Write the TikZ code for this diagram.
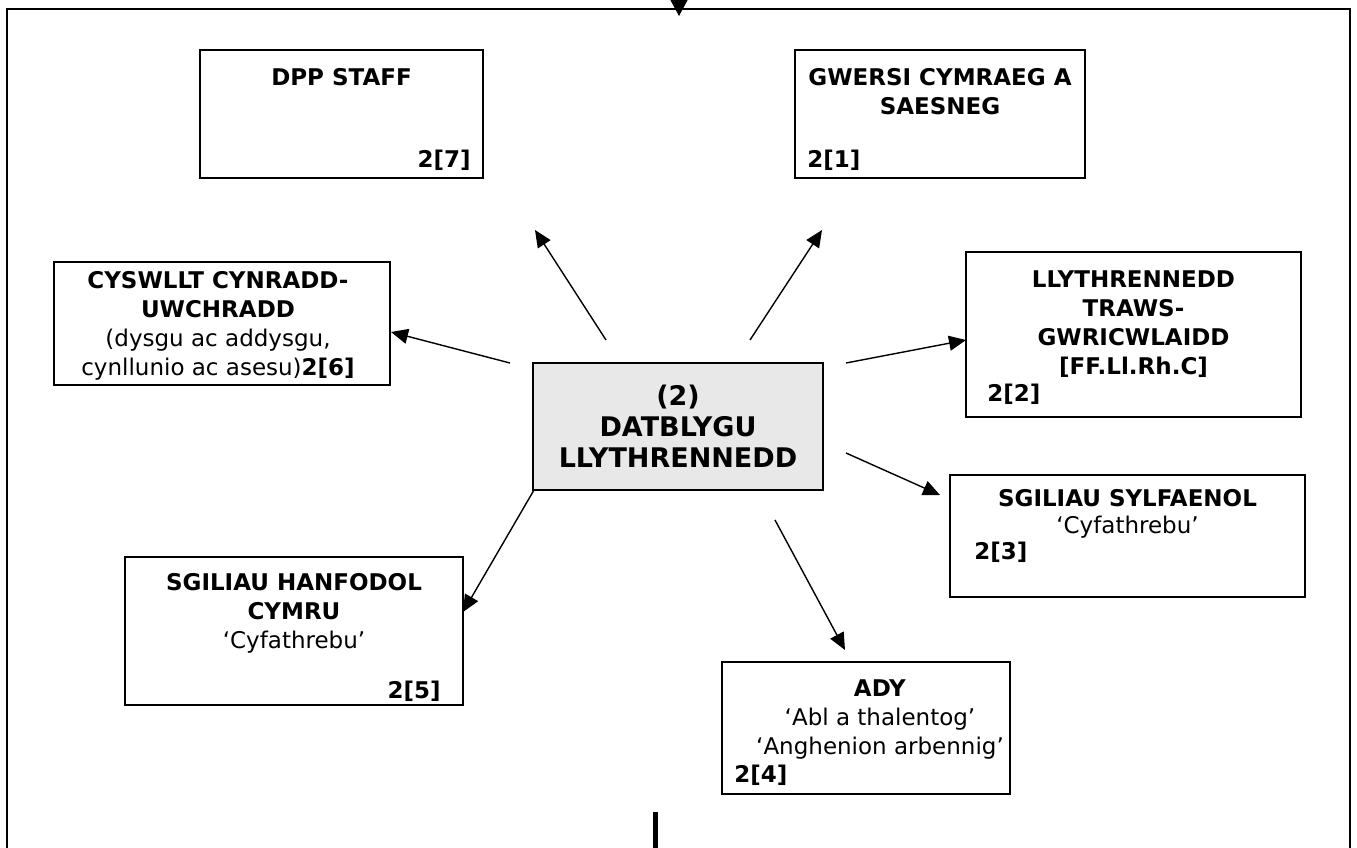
\documentclass[tikz,border=0pt]{standalone}
\usepackage{fontspec}
\setmainfont{DejaVu Sans}
\usetikzlibrary{arrows.meta,positioning}
\definecolor{boxgray}{HTML}{E8E8E8}

\begin{document}
\begin{tikzpicture}[x=1pt,y=-1pt,>={Triangle[length=17pt,width=15pt]},
  box/.style args={#1x#2}{draw,line width=1.5pt,minimum width=#1,minimum height=#2,inner sep=0pt},
  txt/.style={font=\fontsize{23}{29}\selectfont,align=center,inner sep=0pt},
  num/.style={font=\fontsize{23}{29}\selectfont\bfseries,inner sep=0pt}]
  \useasboundingbox (0,0) rectangle (1357,847);
  \draw[line width=2pt] (7,860) -- (7,9) -- (1350,9) -- (1350,860);

  \node[box=290x127,fill=boxgray] (C) at (678,426.5)
    {\parbox{280pt}{\centering\fontsize{27}{31}\selectfont\bfseries (2)\\DATBLYGU\\LLYTHRENNEDD}};

  \node[box=283x128] (S7) at (341.5,114) {};
  \node[box=290x128] (S1) at (940,114) {};
  \node[box=336x123] (S6) at (222,323.5) {};
  \node[box=335x165] (S2) at (1133.5,334.5) {};
  \node[box=355x122] (S3) at (1127.5,536) {};
  \node[box=338x148] (S5) at (294,631) {};
  \node[box=288x132] (S4) at (866,728) {};

  \node[txt,below=19pt of S7.north] (T7) {\textbf{DPP STAFF}};
  \node[num,above left=8pt and 13pt of S7.south east] (N7) {2[7]};
  \node[txt,below=19pt of S1.north] (T1) {\textbf{GWERSI CYMRAEG A}\\\textbf{SAESNEG}};
  \node[num,above right=8pt and 13pt of S1.south west] (N1) {2[1]};
  \node[txt,below=10pt of S6.north,xshift=-4pt] (T6) {\textbf{CYSWLLT CYNRADD-}\\\textbf{UWCHRADD}\\(dysgu ac addysgu,\\cynllunio ac asesu)\textbf{2[6]}};
  \node[txt,below=19pt of S2.north] (T2) {\textbf{LLYTHRENNEDD}\\\textbf{TRAWS-}\\\textbf{GWRICWLAIDD}\\\textbf{[FF.Ll.Rh.C]}};
  \node[num,above right=13pt and 22pt of S2.south west] (N2) {2[2]};
  \node[txt,below=15pt of S3.north,font=\fontsize{23}{27}\selectfont] (T3) {\textbf{SGILIAU SYLFAENOL}\\‘Cyfathrebu’};
  \node[num,below right=68pt and 25pt of S3.north west] (N3) {2[3]};
  \node[txt,below=17pt of S5.north] (T5) {\textbf{SGILIAU HANFODOL}\\\textbf{CYMRU}\\‘Cyfathrebu’};
  \node[num,above left=4pt and 23pt of S5.south east] (N5) {2[5]};
  \node[txt,below=18pt of S4.north,xshift=14pt] (T4) {\textbf{ADY}\\‘Abl a thalentog’\\‘Anghenion arbennig’};
  \node[num,above right=9pt and 13pt of S4.south west] (N4) {2[4]};

  \coordinate (a7) at (606,340); \coordinate (b7) at (535,230);
  \coordinate (a1) at (750,340); \coordinate (b1) at (822,230);
  \coordinate (a6) at (510,363); \coordinate (b6) at (391,332);
  \coordinate (a2) at (846,363); \coordinate (b2) at (966,340);
  \coordinate (a3) at (846,453); \coordinate (b3) at (940,495);
  \coordinate (a5) at (534,490); \coordinate (b5) at (463,612);
  \coordinate (a4) at (775,520); \coordinate (b4) at (845,650);
  \path[->,line width=1.4pt]
  (a7) edge (b7)
  (a1) edge (b1)
  (a6) edge (b6)
  (a2) edge (b2)
  (a3) edge (b3)
  (a5) edge (b5)
  (a4) edge (b4)
  ;

  \coordinate (in) at (679,-10); \coordinate (intip) at (679,16);
  \draw[-{Triangle[length=16pt,width=17pt]},line width=1pt] (in) -- (intip);
  \coordinate (out) at (655,812); \coordinate (outend) at (655,860);
  \draw[line width=5pt] (out) -- (outend);
\end{tikzpicture}
\end{document}
